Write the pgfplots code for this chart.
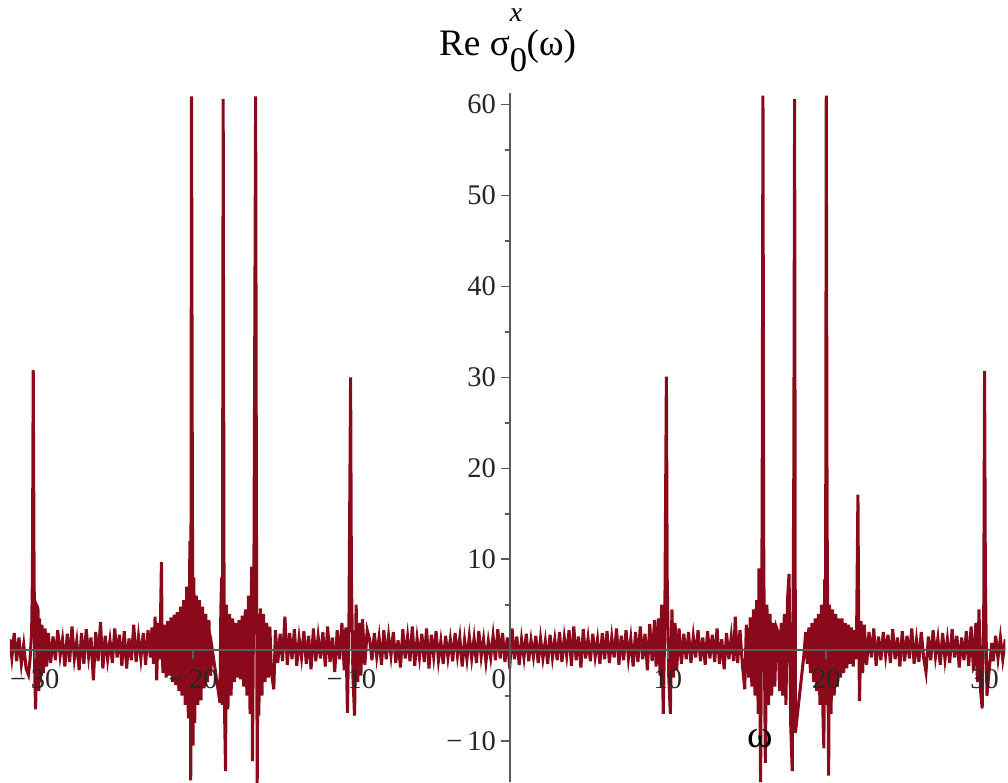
\documentclass[border=0pt]{standalone}
\usepackage{pgfplots}
\pgfplotsset{compat=1.18}
\usepackage{fontspec}
\setmainfont{Liberation Serif}
\definecolor{mapleRed}{HTML}{8A0A1C}
\definecolor{axGrey}{HTML}{5A5A5A}

% Re sigma_0^x(omega), sampled by eye
\pgfplotstableread{
x y
-31.57 1.2
-31.45 -0.8
-31.30 1.9
-31.15 -1.2
-31.00 1.4
-30.85 -1.5
-30.70 0.6
-30.55 -2.0
-30.40 -2.7
-30.30 -1.0
-30.20 2.0
-30.15 8.0
-30.10 30.8
-30.05 10.0
-30.00 -3.0
-29.95 -6.5
-29.90 -2.0
-29.85 4.8
-29.80 4.6
-29.75 -4.5
-29.70 3.5
-29.65 -3.5
-29.55 2.8
-29.45 -2.5
-29.35 2.4
-29.25 -1.8
-29.15 1.9
-29.00 -1.4
-28.85 1.5
-28.70 -1.1
-28.55 2.2
-28.40 -0.6
-28.25 1.2
-28.10 -1.8
-27.95 1.8
-27.80 -1.3
-27.65 2.6
-27.50 -0.9
-27.35 1.0
-27.20 -2.2
-27.05 1.9
-26.90 -1.5
-26.75 2.3
-26.60 -0.7
-26.45 1.4
-26.30 -3.3
-26.15 2.0
-26.00 -1.2
-25.85 3.1
-25.70 -2.0
-25.55 1.6
-25.40 -1.0
-25.25 1.1
-25.10 -1.4
-24.95 2.4
-24.80 -0.8
-24.65 1.7
-24.50 -1.7
-24.35 2.1
-24.20 -2.0
-24.05 1.3
-23.90 -1.1
-23.75 2.8
-23.60 -1.3
-23.45 1.5
-23.30 -0.9
-23.15 1.9
-23.00 -1.6
-22.85 2.2
-22.70 -0.8
-22.60 2.5
-22.50 -1.5
-22.40 3.7
-22.30 -3.3
-22.20 3.0
-22.10 -1.0
-22.00 9.7
-21.95 -0.5
-21.90 -2.5
-21.80 2.8
-21.70 -3.0
-21.60 3.2
-21.50 -2.8
-21.40 3.6
-21.30 -3.5
-21.20 3.9
-21.10 -3.8
-21.00 4.2
-20.90 -4.5
-20.80 4.8
-20.70 -5.0
-20.60 5.5
-20.50 -6.0
-20.40 7.0
-20.30 -7.5
-20.20 12.0
-20.15 -14.3
-20.10 60.9
-20.05 20.0
-20.00 -10.5
-19.95 8.0
-19.90 -8.0
-19.80 6.0
-19.70 -6.0
-19.60 5.5
-19.50 -5.5
-19.40 4.8
-19.30 -4.2
-19.20 4.0
-19.10 -3.5
-19.00 3.3
-18.90 -2.8
-18.80 0.2
-18.30 -5.8
-18.25 4.0
-18.20 8.0
-18.15 -6.0
-18.10 60.6
-18.05 10.0
-18.00 -8.0
-17.95 -13.3
-17.90 5.0
-17.80 -6.5
-17.70 4.0
-17.60 -5.0
-17.50 3.5
-17.40 -3.5
-17.30 3.0
-17.20 -3.0
-17.10 3.3
-17.00 -3.2
-16.90 3.8
-16.80 -4.0
-16.70 4.5
-16.60 -5.0
-16.50 6.0
-16.40 -7.0
-16.30 9.2
-16.25 -12.2
-16.15 12.0
-16.05 60.9
-16.00 15.0
-15.95 -14.6
-15.90 4.0
-15.85 -7.2
-15.75 4.6
-15.65 -5.0
-15.55 4.0
-15.45 -3.5
-15.35 3.0
-15.25 -3.0
-15.15 2.6
-15.05 -2.5
-14.90 -4.3
-14.80 2.2
-14.65 -1.4
-14.50 1.8
-14.35 -1.2
-14.20 3.7
-14.05 -1.6
-13.90 1.9
-13.75 -1.0
-13.60 2.3
-13.45 -1.7
-13.30 1.3
-13.15 -0.8
-13.00 2.1
-12.85 -1.5
-12.70 1.6
-12.55 -2.1
-12.40 2.4
-12.25 -1.2
-12.10 1.5
-11.95 -0.9
-11.80 2.0
-11.65 -1.8
-11.50 2.6
-11.35 -1.3
-11.20 1.4
-11.05 -2.4
-10.90 2.2
-10.75 -1.0
-10.60 3.0
-10.45 -2.2
-10.35 2.5
-10.25 -6.9
-10.15 4.0
-10.05 30.0
-10.00 8.0
-9.90 -3.0
-9.80 -7.2
-9.70 5.0
-9.60 -3.5
-9.50 3.0
-9.40 -2.8
-9.30 3.4
-9.15 -1.6
-9.00 2.2
-8.85 1.2
-8.70 -1.1
-8.55 1.9
-8.40 -0.7
-8.25 1.4
-8.10 -1.6
-7.95 2.2
-7.80 -1.0
-7.65 1.6
-7.50 -0.6
-7.35 2.0
-7.20 -1.4
-7.05 1.1
-6.90 -1.9
-6.75 2.3
-6.60 -0.9
-6.45 1.5
-6.30 -1.2
-6.15 2.6
-6.00 -1.7
-5.85 1.3
-5.70 -0.8
-5.55 1.8
-5.40 -1.3
-5.25 2.4
-5.10 -2.0
-4.95 1.7
-4.80 -0.7
-4.65 2.1
-4.50 -1.1
-4.35 1.0
-4.20 -1.5
-4.05 1.6
-3.90 -0.8
-3.75 1.2
-3.60 -1.2
-3.45 1.9
-3.30 -0.6
-3.15 1.4
-3.00 -1.8
-2.85 1.1
-2.70 -1.0
-2.55 1.5
-2.40 -0.9
-2.25 1.3
-2.10 -1.4
-1.95 2.1
-1.80 -0.7
-1.65 1.2
-1.50 -1.3
-1.35 1.0
-1.20 -0.8
-1.05 1.6
-0.90 -1.1
-0.75 2.3
-0.60 -0.9
-0.45 1.9
-0.30 -1.3
-0.15 1.4
0.00 -2.0
0.15 2.4
0.30 -1.0
0.45 1.5
0.60 -1.6
0.75 1.2
0.90 -0.8
1.05 1.8
1.20 -1.2
1.35 1.1
1.50 -0.7
1.65 1.6
1.80 -1.4
1.95 1.3
2.10 -0.9
2.25 1.0
2.40 -1.5
2.55 1.7
2.70 -0.8
2.85 1.2
3.00 -1.1
3.15 2.0
3.30 -1.3
3.45 1.4
3.60 -0.6
3.75 2.2
3.90 -1.7
4.05 2.6
4.20 -1.1
4.35 1.5
4.50 -1.9
4.65 2.3
4.80 -0.9
4.95 1.3
5.10 -1.2
5.25 1.8
5.40 -0.7
5.55 1.2
5.70 -1.5
5.85 1.9
6.00 -1.0
6.15 2.1
6.30 -1.4
6.45 1.4
6.60 -0.8
6.75 2.4
6.90 -1.6
7.05 1.6
7.20 -1.1
7.35 2.2
7.50 -0.9
7.65 1.3
7.80 -1.8
7.95 2.0
8.10 -1.3
8.25 2.6
8.40 -1.0
8.55 1.8
8.70 -2.2
8.85 2.9
9.00 -1.2
9.15 3.3
9.25 -1.8
9.40 3.5
9.50 -2.8
9.60 5.0
9.70 -7.0
9.80 3.0
9.90 30.1
9.95 8.0
10.05 -3.0
10.15 -7.0
10.25 4.5
10.35 -3.0
10.45 3.0
10.55 -2.2
10.70 2.4
10.85 -1.5
11.00 1.8
11.15 -1.0
11.30 2.0
11.45 -1.4
11.60 1.5
11.75 -0.8
11.90 2.2
12.05 -1.2
12.20 1.4
12.35 -1.6
12.50 2.1
12.65 -0.9
12.80 1.7
12.95 -1.3
13.10 2.4
13.25 -1.5
13.40 1.2
13.55 -2.1
13.70 1.9
13.85 -1.0
14.00 1.5
14.15 -1.2
14.25 3.7
14.40 -1.4
14.55 2.2
14.70 -1.6
14.85 -4.3
14.95 2.8
15.10 -3.0
15.20 3.6
15.30 -4.0
15.40 4.5
15.50 -5.0
15.60 5.5
15.70 -7.0
15.75 9.0
15.85 -14.5
15.95 15.0
16.00 61.0
16.05 10.0
16.15 -12.4
16.25 5.0
16.35 -6.0
16.45 4.0
16.55 -5.0
16.65 3.0
16.75 -4.0
16.85 2.5
16.95 2.0
17.05 -4.5
17.15 3.0
17.25 -5.0
17.35 4.0
17.45 -6.0
17.55 5.5
17.65 8.4
17.75 -8.0
17.85 -13.3
17.95 20.0
18.00 60.6
18.05 -9.1
18.60 -0.3
18.70 2.0
18.80 -1.5
18.90 2.5
19.00 -2.5
19.10 3.0
19.20 -3.5
19.30 3.5
19.40 -4.5
19.50 4.0
19.60 -6.0
19.70 5.0
19.80 -8.0
19.85 -10.8
19.90 7.8
19.95 -6.0
20.00 61.0
20.05 15.0
20.15 -13.8
20.20 5.0
20.30 -7.0
20.40 4.5
20.50 -5.0
20.60 4.0
20.70 -4.0
20.80 3.5
20.90 -3.0
21.00 3.5
21.10 -2.5
21.20 3.0
21.30 -2.0
21.40 2.8
21.50 -1.5
21.60 2.5
21.70 -1.8
21.80 2.2
21.90 -1.0
22.00 17.1
22.05 2.0
22.10 -5.6
22.20 3.2
22.30 -2.5
22.40 2.8
22.55 -1.6
22.70 2.0
22.85 -0.8
23.00 2.4
23.15 -1.7
23.30 1.5
23.45 -1.1
23.60 2.0
23.75 -0.6
23.90 1.7
24.05 -1.4
24.20 2.3
24.35 -1.0
24.50 1.4
24.65 -1.8
24.80 2.1
24.95 -1.2
25.10 1.6
25.25 -0.9
25.40 2.4
25.55 -1.5
25.70 1.1
25.85 -1.3
26.00 2.0
26.15 -0.8
26.30 -2.4
26.45 1.5
26.60 -1.1
26.75 2.2
26.90 -0.7
27.05 1.3
27.20 -1.6
27.35 1.9
27.50 -1.0
27.65 1.2
27.80 -1.4
27.95 2.3
28.10 -0.8
28.25 1.6
28.40 -1.9
28.55 1.4
28.70 -1.1
28.85 2.1
29.00 -1.7
29.15 2.6
29.30 -2.2
29.45 3.0
29.55 -3.5
29.65 4.5
29.75 -4.5
29.85 -6.4
29.95 5.0
30.00 30.7
30.05 8.0
30.15 -5.0
30.25 -3.0
30.45 0.8
30.55 -1.2
30.70 1.6
30.85 -0.9
31.00 1.4
31.15 -1.0
31.31 1.2
}\sigmadata

\begin{document}
\begin{tikzpicture}
\begin{axis}[
  scale only axis, width=360pt, height=249.3pt,
  axis lines=middle,
  axis line style={axGrey, line width=0.6pt, -},
  xmin=-31.57, xmax=31.31, ymin=-14.5, ymax=61.3,
  xtick={-30,-20,-10,10,20,30},
  xticklabels={−\,30,−\,20,−\,10,10,20,30},
  extra x ticks={0}, extra x tick labels={0},
  extra x tick style={tick label style={xshift=-4pt}},
  ytick={-10,10,20,30,40,50,60},
  yticklabels={−\,10,10,20,30,40,50,60},
  minor ytick={-5,5,15,25,35,45,55},
  tick align=outside,
  major tick length=3pt, minor tick length=1.8pt,
  tick style={axGrey, line width=0.6pt},
  ticklabel style={font=\fontsize{10.3}{12}\selectfont, text=black!85},
  xticklabel style={yshift=-0.5pt},
  yticklabel style={xshift=1.5pt},
  xlabel={ω},
  ylabel={Re σ\rlap{\raisebox{-0.42em}{\fontsize{12.5}{14}\selectfont 0}}\raisebox{0.9em}{\fontsize{10}{12}\selectfont\itshape x}\hspace{0.12em}(ω)},
  every axis y label/.style={at={(axis description cs:0.5,1)}, anchor=base,
    yshift=13.5pt, font=\fontsize{13.5}{16}\selectfont},
  every axis x label/.style={at={(axis cs:15.8,-9.75)}, anchor=center,
    font=\fontsize{14}{16}\selectfont},
  axis on top,
]
\addplot[mapleRed, line width=1.1pt] table {\sigmadata};
\end{axis}
\path (current axis.south west) ++(-3.6pt,0);
\end{tikzpicture}
\end{document}
